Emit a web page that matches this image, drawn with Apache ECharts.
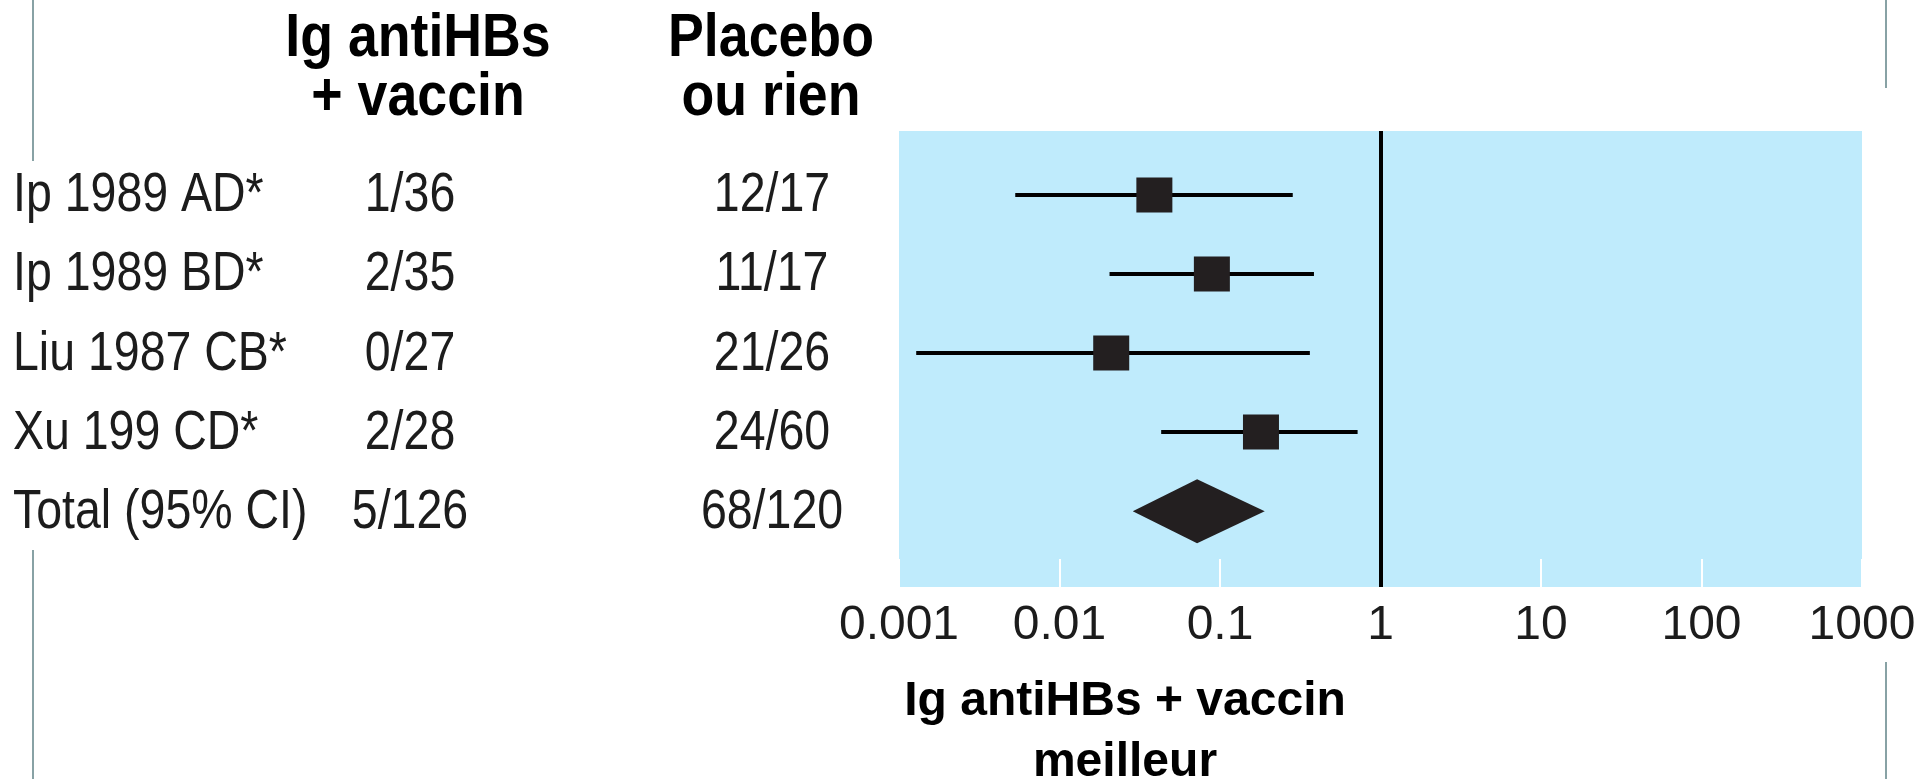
<!DOCTYPE html>
<html><head><meta charset="utf-8">
<script src="https://cdn.jsdelivr.net/npm/echarts@6/dist/echarts.min.js"></script>
<style>html,body{margin:0;padding:0;background:#fff;}#c{width:1915px;height:779px;}</style>
</head><body><div id="c"></div>
<script>
// ---- data ----
const studies  = ['Ip 1989 AD*', 'Ip 1989 BD*', 'Liu 1987 CB*', 'Xu 199 CD*', 'Total (95% CI)'];
const treated  = ['1/36', '2/35', '0/27', '2/28', '5/126'];
const control  = ['12/17', '11/17', '21/26', '24/60', '68/120'];
const estimate = [0.039, 0.089, 0.021, 0.18, 0.072];
const ciLow    = [0.0053, 0.0205, 0.00128, 0.043, 0.0286];
const ciHigh   = [0.284, 0.385, 0.363, 0.72, 0.19];
const tickLabels = ['0.001', '0.01', '0.1', '1', '10', '100', '1000'];
const headerTreated = ['Ig antiHBs', '+ vaccin'];
const headerControl = ['Placebo', 'ou rien'];
const axisTitle = ['Ig antiHBs + vaccin', 'meilleur'];

// ---- styling / layout ----
const FONT = '"Liberation Sans", Arial, Helvetica, sans-serif';
function fontAvailable(name) {
  const ctx = document.createElement('canvas').getContext('2d');
  const s = '0.001 1000 abcdefghijklmnop';
  ctx.font = '50px monospace'; const a = ctx.measureText(s).width;
  ctx.font = '50px "' + name + '", monospace'; const b = ctx.measureText(s).width;
  return Math.abs(a - b) > 0.5;
}
const narrowOK = fontAvailable('Liberation Sans Narrow');
const tickFont = narrowOK
  ? { fontFamily: '"Liberation Sans Narrow", "Liberation Sans", Arial, sans-serif', fontSize: 56 }
  : { fontFamily: FONT, fontSize: 48 };
const INK = '#1c1c1c';
const MARK = '#231f20';
const DECO = '#88a2a5';

function txt(text, x, y, font, align, sx, fill) {
  return {
    type: 'text', x: x, y: y, scaleX: sx, silent: true,
    style: { text: text, font: font, fill: fill || INK,
      textAlign: align, textVerticalAlign: 'middle', align: align, verticalAlign: 'middle' }
  };
}
function vline(x, y1, y2) {
  return { type: 'line', silent: true, shape: { x1: x, y1: y1, x2: x, y2: y2 },
    style: { stroke: DECO, lineWidth: 2 } };
}

const chart = echarts.init(document.getElementById('c'), null, { renderer: 'canvas' });
const last = studies.length - 1;

const option = {
  animation: false,
  backgroundColor: '#ffffff',
  grid: { left: 899, width: 963, top: 131, height: 456, containLabel: false, outerBoundsMode: 'none',
          show: true, backgroundColor: '#bfebfc', borderWidth: 0 },
  xAxis: {
    type: 'log', logBase: 10, min: 0.001, max: 1000, interval: 1, splitNumber: 6,
    position: 'bottom',
    axisLine: { show: false, onZero: false },
    splitLine: { show: false },
    axisTick: { show: true, inside: true, length: 28, lineStyle: { color: '#ffffff', width: 2 } },
    axisLabel: {
      show: true, margin: 15, color: INK, fontFamily: tickFont.fontFamily, fontSize: tickFont.fontSize,
      showMinLabel: true, showMaxLabel: true, hideOverlap: false,
      formatter: function (v) {
        const t = tickLabels.find(function (s) { return Math.abs(Math.log10(+s) - Math.log10(v)) < 1e-6; });
        return t !== undefined ? t : '';
      }
    }
  },
  yAxis: { type: 'value', inverse: true, min: -0.81, max: 4.96, show: false },
  series: [
    {
      type: 'custom', name: 'forest', coordinateSystem: 'cartesian2d', z: 4,
      data: estimate.map(function (e, i) { return [e, i, ciLow[i], ciHigh[i]]; }),
      encode: { x: [0, 2, 3], y: 1 },
      renderItem: function (params, api) {
        const i = api.value(1);
        const c = api.coord([api.value(0), i]);
        const lo = api.coord([api.value(2), i]);
        const hi = api.coord([api.value(3), i]);
        if (params.dataIndex === last) {
          return { type: 'polygon',
            shape: { points: [[lo[0], c[1]], [c[0], c[1] - 32], [hi[0], c[1]], [c[0], c[1] + 32]] },
            style: { fill: MARK } };
        }
        return { type: 'group', children: [
          { type: 'line', shape: { x1: lo[0], y1: c[1], x2: hi[0], y2: c[1] }, style: { stroke: '#000', lineWidth: 4 } },
          { type: 'rect', shape: { x: c[0] - 18, y: c[1] - 17.5, width: 36, height: 35 }, style: { fill: MARK } }
        ] };
      },
      markLine: {
        silent: true, symbol: ['none', 'none'], label: { show: false },
        lineStyle: { color: '#000', width: 4, type: 'solid' },
        emphasis: { disabled: true },
        data: [{ xAxis: 1 }]
      }
    },
    {
      type: 'custom', name: 'table', coordinateSystem: 'cartesian2d', z: 3, silent: true,
      data: studies.map(function (s, i) { return [1, i]; }),
      encode: { x: 0, y: 1 },
      renderItem: function (params, api) {
        const i = params.dataIndex;
        const y = api.coord([1, api.value(1)])[1] + 1;
        const f = '56px ' + FONT;
        return { type: 'group', children: [
          txt(studies[i], 13, y, f, 'left', 0.83),
          txt(treated[i], 410, y, f, 'center', 0.83),
          txt(control[i], 772, y, f, 'center', 0.83)
        ] };
      }
    }
  ],
  graphic: [
    vline(33, 0, 161), vline(33, 550, 779),
    vline(1886, 0, 88), vline(1886, 662, 779),
    txt(headerTreated[0], 418, 39, 'bold 61px ' + FONT, 'center', 0.88, '#000'),
    txt(headerTreated[1], 418, 98, 'bold 61px ' + FONT, 'center', 0.88, '#000'),
    txt(headerControl[0], 771, 39, 'bold 61px ' + FONT, 'center', 0.88, '#000'),
    txt(headerControl[1], 771, 98, 'bold 61px ' + FONT, 'center', 0.88, '#000'),
    txt(axisTitle[0], 1125, 701, 'bold 49px ' + FONT, 'center', 0.98, '#000'),
    txt(axisTitle[1], 1125, 762, 'bold 49px ' + FONT, 'center', 0.98, '#000')
  ]
};
chart.setOption(option);
</script>
</body></html>
